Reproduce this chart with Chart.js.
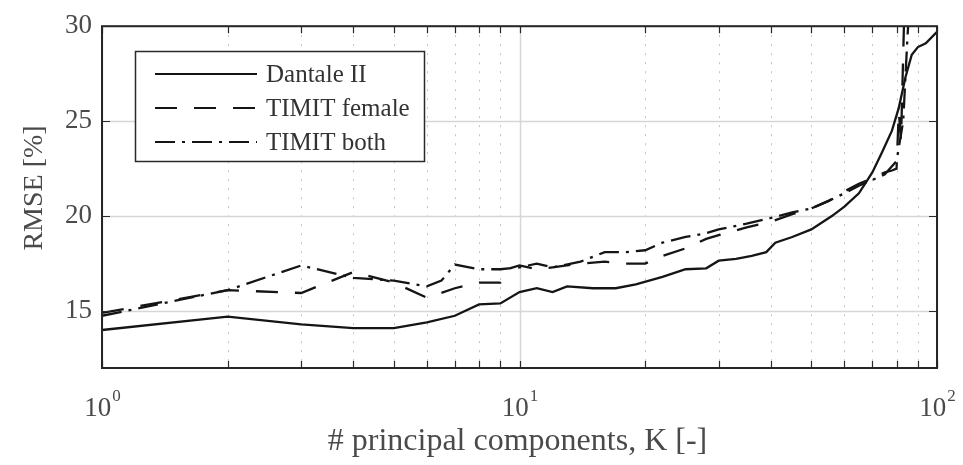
<!DOCTYPE html>
<html>
<head>
<meta charset="utf-8">
<script src="https://cdn.jsdelivr.net/npm/chart.js@4.4.0/dist/chart.umd.min.js"></script>
<style>
  html, body { margin: 0; padding: 0; background: #fff; }
</style>
</head>
<body>
<canvas id="rmse-chart" width="963" height="465"></canvas>
<script>
// K (number of principal components) and RMSE [%] for each corpus
var kDantale = [1, 2, 3, 4, 5, 6, 7, 8, 9, 10, 11, 12, 13, 15, 17, 19, 22, 25, 28, 30, 33, 36, 39, 41, 45, 50, 56, 60, 65, 70, 74, 78, 81, 84, 87, 90, 94, 100];
var rmseDantale = [14.0, 14.7, 14.3, 14.1, 14.1, 14.4, 14.75, 15.35, 15.4, 16.0, 16.2, 16.0, 16.3, 16.2, 16.2, 16.4, 16.8, 17.2, 17.25, 17.65, 17.75, 17.9, 18.1, 18.6, 18.9, 19.3, 20.0, 20.5, 21.2, 22.3, 23.4, 24.5, 25.7, 27.3, 28.5, 28.9, 29.1, 29.7];

var kFemale = [1, 2, 3, 4, 5, 6, 7, 8, 9, 9.5, 10, 11, 12, 14, 16, 18, 20, 22, 25, 28, 30, 35, 40, 45, 50, 55, 60, 65, 70, 75, 78, 80, 81, 82, 84];
var rmseFemale = [14.9, 16.1, 15.95, 17.05, 16.5, 15.7, 16.2, 16.5, 16.5, 17.25, 17.4, 17.2, 17.3, 17.5, 17.6, 17.5, 17.5, 17.9, 18.3, 18.8, 19.0, 19.4, 19.7, 20.1, 20.4, 20.8, 21.3, 21.7, 22.0, 22.3, 22.4, 22.5, 25.5, 24.0, 33.0];

var kBoth = [1, 2, 3, 4, 5, 6, 6.5, 7, 8, 9, 10, 11, 12, 14, 16, 18, 20, 22, 25, 28, 30, 35, 40, 45, 50, 55, 60, 65, 70, 75, 80, 83, 85, 87];
var rmseBoth = [14.75, 16.1, 17.4, 16.75, 16.6, 16.3, 16.6, 17.45, 17.2, 17.2, 17.3, 17.5, 17.3, 17.6, 18.1, 18.1, 18.2, 18.6, 18.9, 19.1, 19.3, 19.6, 19.9, 20.2, 20.4, 20.8, 21.2, 21.6, 21.9, 22.2, 22.9, 25.0, 29.5, 33.0];

var seriesNames = ["Dantale II", "TIMIT female", "TIMIT both"];
var yTicks = [15, 20, 25, 30];
var xDecades = [1, 10, 100];
var xMinor = [2, 3, 4, 5, 6, 7, 8, 9, 20, 30, 40, 50, 60, 70, 80, 90];

var serif = "'Liberation Serif', 'DejaVu Serif', serif";
var textGrey = "#4a4a4a";
var dashes = [[], [22, 17], [20, 7, 3, 7]];

function toPoints(ks, vals) {
  return ks.map(function (k, i) { return { x: k, y: vals[i] }; });
}

// grid, frame and inward ticks in the style of a matlab axes box
var axesBox = {
  id: "axesBox",
  beforeDatasetsDraw: function (chart) {
    var ctx = chart.ctx, a = chart.chartArea;
    var xs = chart.scales.x, ys = chart.scales.y;
    ctx.save();
    ctx.lineWidth = 1;
    ctx.strokeStyle = "#c4c4c4";
    ctx.setLineDash([2, 7]);
    xMinor.forEach(function (v) {
      var px = Math.round(xs.getPixelForValue(v)) + 0.5;
      ctx.beginPath(); ctx.moveTo(px, a.top); ctx.lineTo(px, a.bottom); ctx.stroke();
    });
    ctx.setLineDash([]);
    ctx.strokeStyle = "#d6d6d6";
    ctx.lineWidth = 1.5;
    xDecades.forEach(function (v) {
      var px = Math.round(xs.getPixelForValue(v)) + 0.5;
      ctx.beginPath(); ctx.moveTo(px, a.top); ctx.lineTo(px, a.bottom); ctx.stroke();
    });
    yTicks.forEach(function (v) {
      var py = Math.round(ys.getPixelForValue(v)) + 0.5;
      ctx.beginPath(); ctx.moveTo(a.left, py); ctx.lineTo(a.right, py); ctx.stroke();
    });
    ctx.restore();
  },
  afterDatasetsDraw: function (chart) {
    var ctx = chart.ctx, a = chart.chartArea;
    var xs = chart.scales.x, ys = chart.scales.y;
    ctx.save();
    ctx.strokeStyle = "#2a2a2a";
    ctx.lineWidth = 1.2;
    xDecades.concat(xMinor).forEach(function (v) {
      var px = Math.round(xs.getPixelForValue(v)) + 0.5;
      ctx.beginPath();
      ctx.moveTo(px, a.bottom); ctx.lineTo(px, a.bottom - 7);
      ctx.moveTo(px, a.top); ctx.lineTo(px, a.top + 7);
      ctx.stroke();
    });
    yTicks.forEach(function (v) {
      var py = Math.round(ys.getPixelForValue(v)) + 0.5;
      ctx.beginPath();
      ctx.moveTo(a.left, py); ctx.lineTo(a.left + 8, py);
      ctx.moveTo(a.right, py); ctx.lineTo(a.right - 8, py);
      ctx.stroke();
    });
    ctx.lineWidth = 2;
    ctx.strokeStyle = "#262626";
    ctx.strokeRect(a.left, a.top, a.right - a.left, a.bottom - a.top);

    // decade labels 10^n under the x axis
    ctx.fillStyle = textGrey;
    ctx.textBaseline = "alphabetic";
    xDecades.forEach(function (v, n) {
      var px = xs.getPixelForValue(v);
      ctx.font = "27px " + serif;
      var wBase = ctx.measureText("10").width;
      ctx.font = "17px " + serif;
      var wExp = ctx.measureText(String(n)).width;
      var x0 = px - (wBase + wExp) / 2;
      ctx.font = "27px " + serif;
      ctx.textAlign = "left";
      ctx.fillText("10", x0, 416);
      ctx.font = "17px " + serif;
      ctx.fillText(String(n), x0 + wBase + 1, 401);
    });

    // axis titles
    ctx.textAlign = "center";
    ctx.textBaseline = "middle";
    ctx.font = "32px " + serif;
    ctx.fillText("# principal components, K [-]", (a.left + a.right) / 2 - 2, 442);
    ctx.font = "28px " + serif;
    ctx.translate(35, 188);
    ctx.rotate(-Math.PI / 2);
    ctx.fillText("RMSE [%]", 0, 0);
    ctx.restore();

    // legend box
    ctx.save();
    ctx.fillStyle = "#fff";
    ctx.fillRect(135, 51, 289, 110);
    ctx.strokeStyle = "#2a2a2a";
    ctx.lineWidth = 1.5;
    ctx.strokeRect(135.5, 51.5, 289, 110);
    var rows = [74, 108, 142];
    ctx.font = "25px " + serif;
    ctx.textAlign = "left";
    ctx.textBaseline = "middle";
    seriesNames.forEach(function (name, i) {
      ctx.strokeStyle = "#151515";
      ctx.lineWidth = 2.2;
      ctx.setLineDash(dashes[i]);
      ctx.beginPath(); ctx.moveTo(155, rows[i]); ctx.lineTo(257, rows[i]); ctx.stroke();
      ctx.setLineDash([]);
      ctx.fillStyle = "#333";
      ctx.fillText(name, 266, rows[i] + 1);
    });
    ctx.restore();
  }
};

var datasets = [
  { label: seriesNames[0], data: toPoints(kDantale, rmseDantale), borderDash: dashes[0] },
  { label: seriesNames[1], data: toPoints(kFemale, rmseFemale), borderDash: dashes[1] },
  { label: seriesNames[2], data: toPoints(kBoth, rmseBoth), borderDash: dashes[2] }
].map(function (d) {
  d.borderColor = "#151515";
  d.borderWidth = 2.3;
  d.pointRadius = 0;
  d.fill = false;
  d.tension = 0;
  return d;
});

var config = {
  type: "line",
  data: { datasets: datasets },
  plugins: [axesBox],
  options: {
    responsive: false,
    animation: false,
    layout: { padding: { left: 0, top: 17, right: 26, bottom: 0 } },
    plugins: { legend: { display: false }, tooltip: { enabled: false } },
    scales: {
      x: {
        type: "logarithmic",
        min: 1,
        max: 100,
        grid: { display: false },
        border: { display: false },
        ticks: { display: false },
        afterFit: function (scale) { scale.height = 97; }
      },
      y: {
        type: "linear",
        min: 12,
        max: 30,
        grid: { display: false, drawTicks: false },
        border: { display: false },
        ticks: {
          padding: 10,
          color: textGrey,
          font: { family: serif, size: 27 }
        },
        afterBuildTicks: function (scale) {
          scale.ticks = yTicks.map(function (v) { return { value: v }; });
        },
        afterFit: function (scale) { scale.width = 102; }
      }
    }
  }
};

const ctx = document.getElementById("rmse-chart").getContext("2d");
const rmseChart = new Chart(ctx, config);
</script>
</body>
</html>
